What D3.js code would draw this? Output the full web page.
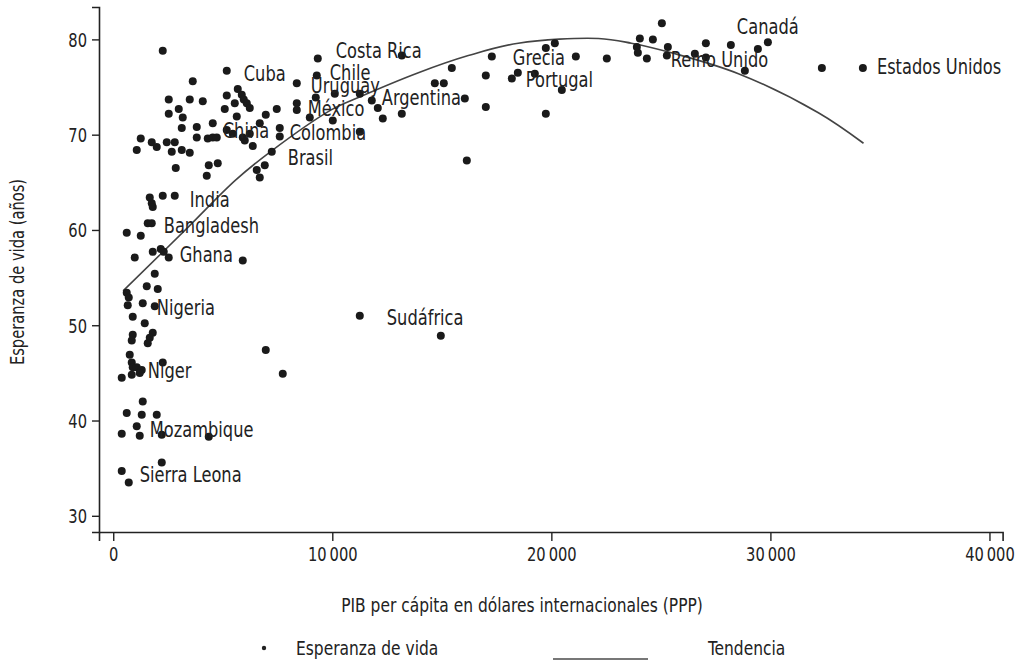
<!DOCTYPE html>
<html><head><meta charset="utf-8">
<script src="https://cdn.jsdelivr.net/npm/d3@7"></script>
<style>
html,body{margin:0;padding:0;background:#fff;}
svg text{font-family:"DejaVu Sans Condensed","DejaVu Sans",sans-serif;font-stretch:condensed;fill:#222;}
</style></head>
<body><svg id="c" width="1021" height="662"></svg>
<script>
// PIB per cápita (PPP) — Esperanza de vida (años)
const gdp = [2260,5182,9338,9292,8379,3630,5685,5867,5959,6096,6233,5182,5548,5091,2534,3493,4087,2534,2991,3173,
 3128,3813,3813,4543,4315,4543,4726,5182,5639,5456,5913,6004,6233,6370,6963,7465,6689,7602,7602,8379,
 8379,8972,10022,7237,6917,6552,6689,1256,1073,1758,1986,2443,2808,2671,3128,3493,2854,4361,4771,4269,
 9246,10114,11255,13173,11255,11803,12077,12305,13173,14680,15091,15456,16050,17008,17008,16141,17282,18196,18470,19748,
 20159,19748,19246,20479,21118,22533,24040,23903,23949,24360,24634,25045,25319,25273,26551,27054,28195,29428,29885,28834,
 32350,34222,27054,1667,1758,1804,2260,2808,1575,1758,616,1256,982,1804,2169,2306,2534,5913,1895,1530,
 2032,616,708,662,1347,1895,890,1438,1804,1667,1575,890,845,6963,7739,753,845,890,1073,1301,
 2260,388,845,1210,1347,616,1301,1986,1073,1210,388,2215,4361,2215,388,708,11255,14954];
const lifeExp = [78.8,76.7,78.0,76.2,75.4,75.6,74.8,74.2,73.7,73.3,72.8,74.1,73.3,72.7,73.7,73.7,73.5,72.2,72.7,71.8,
 70.7,70.8,69.7,71.2,69.6,69.7,69.7,70.5,71.9,70.1,69.7,69.4,70.1,68.8,72.1,72.7,71.2,70.7,69.8,73.3,
 72.6,71.8,71.5,68.2,66.8,66.3,65.5,69.6,68.4,69.2,68.7,69.2,69.2,68.2,68.4,68.1,66.5,66.8,67.0,65.7,
 73.9,74.3,74.3,78.3,70.3,73.6,72.8,71.7,72.2,75.4,75.4,77.0,73.8,76.2,72.9,67.3,78.2,75.9,76.5,79.1,
 79.6,72.2,76.4,74.7,78.2,78.0,80.1,79.2,78.6,78.0,80.0,81.7,79.2,78.3,78.5,79.6,79.4,79.0,79.7,76.7,
 77.0,77.0,78.1,63.4,62.8,62.4,63.6,63.6,60.7,60.7,59.7,59.4,57.1,57.7,58.0,57.7,57.1,56.8,55.4,54.1,
 53.8,53.4,52.9,52.1,52.3,52.0,50.9,50.2,49.2,48.7,48.1,49.0,48.4,47.4,44.9,46.9,46.1,45.6,45.6,45.3,
 46.1,44.5,44.8,45.0,42.0,40.8,40.6,40.6,39.4,38.4,38.6,38.5,38.3,35.6,34.7,33.5,51.0,48.9];

// Tendencia (curva ajustada)
const trendGdp  = [450,3420,5570,7170,9950,11190,13930,16210,18490,22150,23650,25480,28540,32190,34250];
const trendLife = [53.6,60.3,65.2,68.2,72.6,73.9,76.5,78.3,79.6,80.1,79.6,78.6,76.4,72.3,69.1];

// Etiquetas de países (ancla del texto en unidades de datos)
const labelNames = ["Cuba","Costa Rica","Chile","Uruguay","México","Argentina","China","Colombia","Brasil","India",
 "Bangladesh","Ghana","Nigeria","Niger","Mozambique","Sierra Leona","Sudáfrica","Grecia","Portugal","Canadá","Reino Unido","Estados Unidos"];
const labelGdp  = [5959,10159,9885,9018,8881,12260,5000,8059,7968,3493,2306,3036,1986,1575,1667,1210,12488,18241,18835,28469,25455,34861];
const labelLife = [75.6,78.0,75.7,74.4,72.0,73.1,69.7,69.4,66.8,62.4,59.7,56.6,51.1,44.5,38.3,33.5,50.0,77.3,75.0,80.6,77.1,76.4];

const xTicks = [0,10000,20000,30000,40000];
const xTickLabels = ["0","10\u2009000","20\u2009000","30\u2009000","40\u2009000"];
const yTicks = [30,40,50,60,70,80];

const SX = 0.86; // horizontal condensing of text
const svg = d3.select("#c");
const x = d3.scaleLinear().domain([-650,40600]).range([99,1002.6]);
const y = d3.scaleLinear().domain([28.3,83.4]).range([532,7]);

function ctext(g, tx, ty, str, size, anchor, rot){
  return g.append("text")
    .attr("transform",`translate(${tx},${ty})${rot?` rotate(${rot})`:""} scale(${SX},1)`)
    .attr("font-size",size).attr("text-anchor",anchor||"start").text(str);
}

const xAxis = d3.axisBottom(x).tickValues(xTicks).tickSizeOuter(0).tickSize(9).tickFormat(()=> "");
const gx = svg.append("g").attr("transform","translate(0,532)").call(xAxis);
const yAxis = d3.axisLeft(y).tickValues(yTicks).tickSizeOuter(0).tickSize(7).tickFormat(()=> "");
const gy = svg.append("g").attr("transform","translate(99,0)").call(yAxis);
[gx,gy].forEach(g=>{
  g.selectAll("path.domain").attr("stroke","#222").attr("stroke-width",1.6);
  g.selectAll(".tick line").attr("stroke","#222").attr("stroke-width",1.4);
});
gx.selectAll(".tick").each(function(d,i){ ctext(d3.select(this),0,29,xTickLabels[i],19,"middle"); });
gy.selectAll(".tick").each(function(d){ ctext(d3.select(this),-12,7,String(d),19,"end"); });

// trend line
const line = d3.line().x((d,i)=>x(trendGdp[i])).y((d,i)=>y(trendLife[i])).curve(d3.curveCatmullRom);
svg.append("path").datum(trendGdp).attr("d",line).attr("fill","none").attr("stroke","#444").attr("stroke-width",1.6);

// dots
svg.append("g").selectAll("circle").data(gdp).join("circle")
  .attr("cx",d=>x(d)).attr("cy",(d,i)=>y(lifeExp[i])).attr("r",4).attr("fill","#1a1a1a");

// labels
const gl = svg.append("g");
labelNames.forEach((n,i)=>ctext(gl, x(labelGdp[i]), y(labelLife[i]), n, 21));

// axis titles
ctext(svg, 522, 612, "PIB per cápita en dólares internacionales (PPP)", 20, "middle");
ctext(svg, 24, 272, "Esperanza de vida (años)", 19, "middle", -90);

// legend
svg.append("circle").attr("cx",264).attr("cy",648).attr("r",2.2).attr("fill","#222");
ctext(svg, 296, 655, "Esperanza de vida", 20);
svg.append("line").attr("x1",553).attr("x2",648).attr("y1",659).attr("y2",659).attr("stroke","#777").attr("stroke-width",2);
ctext(svg, 708, 655, "Tendencia", 20);
</script></body></html>
